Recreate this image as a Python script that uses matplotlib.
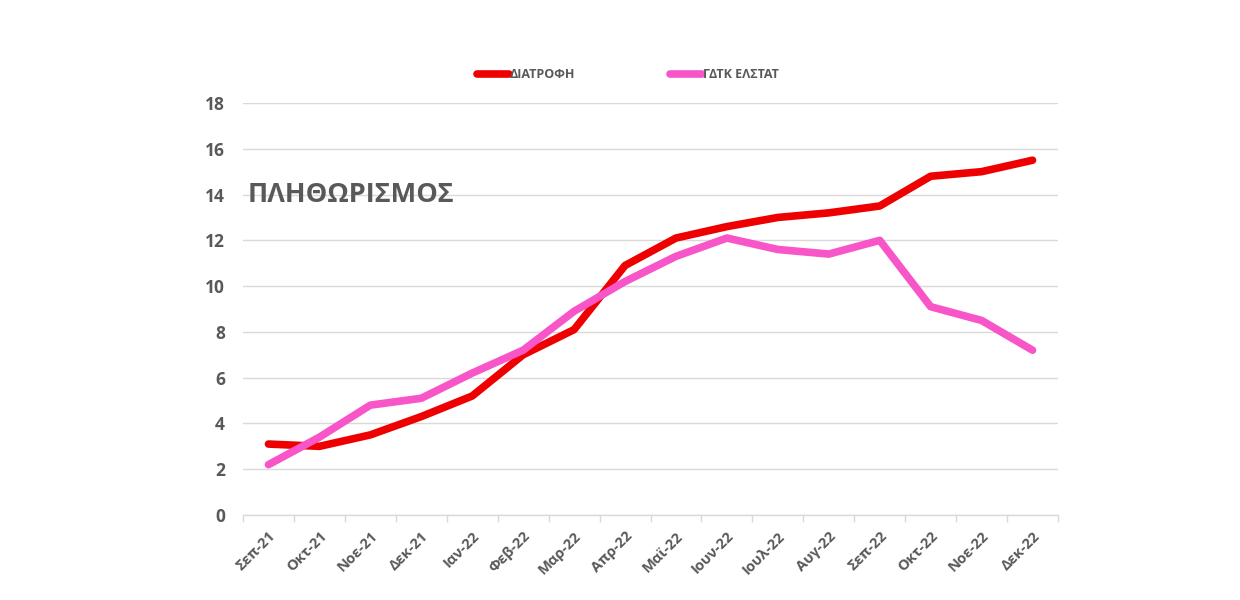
import matplotlib
matplotlib.use("Agg")
import matplotlib.pyplot as plt
import numpy as np

plt.rcParams['font.family'] = ['Open Sans', 'DejaVu Sans']

months = ["Σεπ-21", "Οκτ-21", "Νοε-21", "Δεκ-21", "Ιαν-22", "Φεβ-22", "Μαρ-22", "Απρ-22",
          "Μαϊ-22", "Ιουν-22", "Ιουλ-22", "Αυγ-22", "Σεπ-22", "Οκτ-22", "Νοε-22", "Δεκ-22"]
diatrofi = [3.1, 3.0, 3.5, 4.3, 5.2, 7.0, 8.1, 10.9, 12.1, 12.6, 13.0, 13.2, 13.5, 14.8, 15.0, 15.5]
gdtk = [2.2, 3.4, 4.8, 5.1, 6.2, 7.2, 8.9, 10.2, 11.3, 12.1, 11.6, 11.4, 12.0, 9.1, 8.5, 7.2]
series_names = ["ΔΙΑΤΡΟΦΗ", "ΓΔΤΚ ΕΛΣΤΑΤ"]
colors = ["#ee0000", "#f755c8"]
yticks = [0, 2, 4, 6, 8, 10, 12, 14, 16, 18]

grey = "#595959"
fig = plt.figure(figsize=(12.4, 6.0), dpi=100)
ax = fig.add_axes([243/1240, 1-515/600, (1058-243)/1240, (515-103)/600])

x = np.arange(len(months))
l1, = ax.plot(x, diatrofi, color=colors[0], lw=5.5, solid_capstyle='round', solid_joinstyle='round', zorder=3)
l2, = ax.plot(x, gdtk, color=colors[1], lw=5.5, solid_capstyle='round', solid_joinstyle='round', zorder=3)

ax.set_xlim(-0.5, len(months)-0.5)
ax.set_ylim(0, 18)
ax.set_yticks(yticks)
ax.set_yticklabels([str(v) for v in yticks], fontsize=12.5, fontweight='bold', color=grey)
ax.tick_params(axis='y', length=0, pad=13)
ax.grid(axis='y', color='#d9d9d9', lw=1)
ax.set_axisbelow(True)

ax.set_xticks(np.arange(-0.5, len(months), 1.0))
ax.set_xticklabels([])
ax.set_xticks(x, minor=True)
ax.set_xticklabels(months, minor=True, rotation=45, ha='right', va='top', rotation_mode='anchor',
                   fontsize=10.5, fontweight='bold', color=grey)
ax.tick_params(axis='x', which='major', length=5, color='#d9d9d9', width=1)
ax.tick_params(axis='x', which='minor', length=0, pad=10)

for s in ['top', 'right', 'left']:
    ax.spines[s].set_visible(False)
ax.spines['bottom'].set_color('#d9d9d9')
ax.spines['bottom'].set_linewidth(1)

ax.text(248/1240, 1-195/600, "ΠΛΗΘΩΡΙΣΜΟΣ", transform=fig.transFigure, ha='left', va='center',
        fontsize=19.5, fontweight='bold', color=grey)

leg = fig.legend([l1, l2], series_names, loc='center', bbox_to_anchor=(628/1240, 1-75/600), ncol=2,
                 frameon=False, handlelength=2.5, handletextpad=0.1, columnspacing=7.6,
                 prop={'size': 9, 'weight': 'bold'})
for t in leg.get_texts():
    t.set_color(grey)

fig.savefig("out.png", dpi=100, facecolor='white')
